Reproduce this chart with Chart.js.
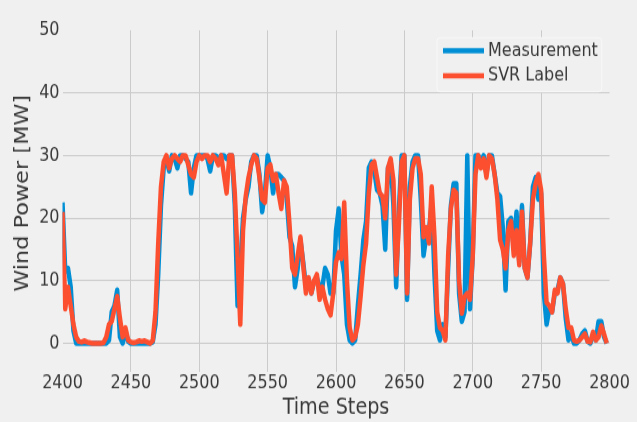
<!DOCTYPE html>
<html>
<head>
<meta charset="utf-8">
<script src="https://cdn.jsdelivr.net/npm/chart.js@4.4.1/dist/chart.umd.min.js"></script>
<style>
    html { margin: 0; padding: 0; background: #f0f0f0; overflow: hidden; }
    body { margin: 0; padding: 0; width: 637px; height: 422px; background: #f0f0f0; }
    /* the reference picture is stretched vertically, so the canvas is too */
    #wrap { width: 637px; height: 362px; transform: scale(1, 1.1657); transform-origin: 0 0; }
</style>
</head>
<body>
<div id="wrap"><canvas id="chart" width="637" height="362"></canvas></div>
<script>
const stepStart = 2400;
const stepSize = 2;
const xTicks = [2400, 2450, 2500, 2550, 2600, 2650, 2700, 2750, 2800];
const yTicks = [0, 10, 20, 30, 40, 50];
const seriesNames = ['Measurement', 'SVR Label'];

const measurement = [
    22.5, 11.5, 12, 9, 2, 0, 0, 0, 0, 0,
    0, 0, 0, 0, 0, 0, 0, 0.5, 5, 6,
    8.5, 1, 0, 2, 0.3, 0, 0, 0, 0, 0,
    0, 0, 0, 0.2, 3, 11, 22, 28, 29.5, 27.5,
    30, 29.5, 28, 30, 30, 29.5, 29, 24, 28, 30,
    30, 30, 30, 29.5, 27.5, 30, 30, 29.5, 30, 30,
    29.5, 30, 30, 22, 6, 12, 20, 23, 25, 29,
    30, 30, 27, 21, 24, 30, 28, 24, 27, 27,
    26.5, 26, 23, 17, 15.5, 9, 12, 16.5, 13, 9,
    10, 8, 10, 10.5, 9, 9, 12, 11, 8, 8,
    18, 21.5, 14, 11, 3, 0.5, 0, 0.5, 6, 11,
    16.5, 19.5, 28, 29, 27.5, 24.5, 24, 22, 15, 28,
    29, 22, 9, 21.5, 30, 30, 7, 25, 29, 30,
    30, 23, 14, 17, 18, 22.5, 11, 2, 0.5, 3,
    1, 12, 22, 25.5, 25.5, 8, 3.5, 5, 30, 5.5,
    14, 30, 30, 29, 30, 27, 30, 30, 27, 24,
    23.5, 18.5, 8.5, 19.5, 20, 15, 21, 13, 22, 12,
    10.5, 16, 25, 26.5, 23, 24, 8, 3, 5.5, 5,
    8, 8.5, 10.5, 9.5, 4, 0.5, 1.5, 0, 0, 0.5,
    1.5, 2, 0.3, 0, 1.5, 0.5, 3.5, 3.5, 1, 0
];

const svrLabel = [
    21, 5.5, 9, 6, 3, 1, 0.3, 0.2, 0.4, 0.2,
    0.1, 0, 0, 0, 0, 0.1, 1, 3, 3.5, 5.5,
    7.5, 4, 1, 2.5, 0.5, 0.2, 0.1, 0.2, 0.4, 0.3,
    0.4, 0.2, 0, 0.4, 5, 16, 25, 29, 30, 28,
    29.5, 30, 29.5, 29, 30, 30, 28.5, 27, 26.5, 29,
    30, 29.5, 30, 30, 29, 30, 29.5, 28.5, 30, 27,
    24, 30, 30, 24, 14, 3, 18, 23.5, 26.5, 28.5,
    30, 29.5, 26.5, 23, 22.5, 28, 28.5, 26, 27, 24,
    21.5, 26, 25, 19, 12, 11, 14, 17, 12.5, 8,
    10.5, 8, 10, 11, 7, 9, 7, 5.5, 4.5, 8,
    13, 14.5, 13.5, 22.5, 10, 2.5, 0.5, 1, 3, 7.5,
    12.5, 16, 24, 28.5, 29, 26.5, 24, 23.5, 20, 28,
    29.5, 26, 11, 19, 29, 30, 8, 23, 28, 29.5,
    29.5, 27, 17, 18.5, 16, 25, 17, 5, 2.5, 2,
    0.5, 14, 21.5, 24.5, 24, 10, 4.8, 7.4, 8, 7,
    14, 27, 30, 28, 29.5, 26.5, 30, 29.5, 27, 23,
    16.5, 15, 12, 18, 19.5, 14, 18, 12.5, 21, 12,
    10.5, 16, 23, 25.5, 27, 24.5, 14, 6.5, 6, 5,
    8.5, 8, 10.5, 9.5, 5.5, 2.5, 2.5, 0.5, 0.3, 0.5,
    1, 1.5, 0.3, 0.2, 1.8, 0.5, 1, 2.8, 1.5, 0
];

const colors = ['#008fd5', '#fc4f30'];
const textColor = '#383838';
const gridColor = '#cbcbcb';
const font = 'DejaVu Sans';

const toPoints = (values) => values.map((v, i) => ({ x: stepStart + i * stepSize, y: v }));

// y title and legend drawn by hand so they sit where the reference has them
const decorations = {
    id: 'decorations',
    afterDraw(chart) {
        const ctx = chart.ctx;
        ctx.save();
        ctx.fillStyle = textColor;
        ctx.font = `19.2px "${font}"`;
        ctx.textAlign = 'center';
        ctx.textBaseline = 'middle';
        ctx.translate(23, 165.8);
        ctx.rotate(-Math.PI / 2);
        ctx.fillText('Wind Power [MW]', 0, 0);
        ctx.restore();

        ctx.save();
        ctx.beginPath();
        ctx.roundRect(437, 32.3, 164.7, 46.4, 3);
        ctx.fillStyle = '#f0f0f0';
        ctx.fill();
        ctx.strokeStyle = '#f8f8f8';
        ctx.lineWidth = 1;
        ctx.stroke();
        const rows = [43.5, 64.9];
        ctx.font = `16px "${font}"`;
        ctx.textBaseline = 'middle';
        rows.forEach((y, i) => {
            ctx.beginPath();
            ctx.moveTo(443, y);
            ctx.lineTo(484, y);
            ctx.strokeStyle = colors[i];
            ctx.lineWidth = 4.5;
            ctx.stroke();
            ctx.fillStyle = textColor;
            ctx.fillText(seriesNames[i], 488, y);
        });
        ctx.restore();
    }
};

new Chart(document.getElementById('chart'), {
    type: 'line',
    data: {
        datasets: [
            { label: seriesNames[0], data: toPoints(measurement), borderColor: colors[0], order: 2 },
            { label: seriesNames[1], data: toPoints(svrLabel), borderColor: colors[1], order: 1 }
        ]
    },
    options: {
        responsive: false,
        animation: false,
        devicePixelRatio: 1,
        layout: { padding: { left: 0, right: 27.5, top: 26, bottom: 0 } },
        elements: {
            line: { borderWidth: 4.5, tension: 0, borderJoinStyle: 'round', borderCapStyle: 'butt' },
            point: { radius: 0 }
        },
        plugins: { legend: { display: false }, tooltip: { enabled: false } },
        scales: {
            x: {
                type: 'linear', min: 2400, max: 2800,
                afterBuildTicks: (s) => { s.ticks = xTicks.map(v => ({ value: v })); },
                afterFit: (s) => { s.height = 43.1; },
                grid: { color: (c) => (c.tick && (c.tick.value === 2400 || c.tick.value === 2800)) ? 'rgba(0,0,0,0)' : gridColor, lineWidth: 1, drawTicks: false },
                border: { display: false },
                ticks: { color: textColor, font: { family: font, size: 16 }, padding: 0, maxRotation: 0, autoSkip: false, callback: (v) => String(v) },
                title: { display: true, text: 'Time Steps', color: textColor, font: { family: font, size: 19.2 }, padding: { top: 0, bottom: 0.5 } }
            },
            y: {
                min: -4.55, max: 50,
                afterBuildTicks: (s) => { s.ticks = yTicks.map(v => ({ value: v })); },
                afterFit: (s) => { s.width = 62.5; },
                grid: { color: (c) => (c.tick && c.tick.value === 50) ? 'rgba(0,0,0,0)' : gridColor, lineWidth: 1, drawTicks: false },
                border: { display: false },
                ticks: { color: textColor, font: { family: font, size: 16 }, padding: 3 }
            }
        }
    },
    plugins: [decorations]
});
</script>
</body>
</html>
